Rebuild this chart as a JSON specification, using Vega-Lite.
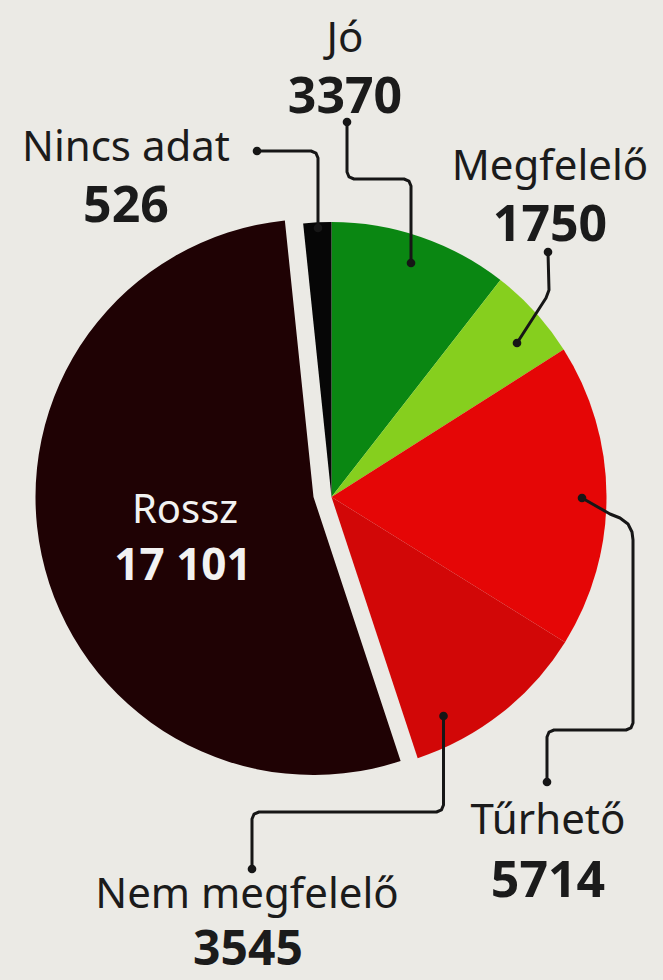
{
  "$schema": "https://vega.github.io/schema/vega-lite/v6.json",
  "width": 663,
  "height": 980,
  "autosize": {"type": "fit", "contains": "padding"},
  "padding": {"top": 14, "left": 0, "right": 0, "bottom": 0},
  "background": "#ebeae5",
  "config": {"view": {"stroke": null}},
  "data": {"values": [
    {"category": "Jó", "value": 3370, "rank": 1},
    {"category": "Megfelelő", "value": 1750, "rank": 2},
    {"category": "Tűrhető", "value": 5714, "rank": 3},
    {"category": "Nem megfelelő", "value": 3545, "rank": 4},
    {"category": "Rossz", "value": 17101, "rank": 5},
    {"category": "Nincs adat", "value": 526, "rank": 6}
  ]},
  "datasets": {
    "leaders": [
      {"leader": "Jó", "seq": 0, "x": 0.0564, "y": 1.3636},
      {"leader": "Jó", "seq": 1, "x": 0.0564, "y": 1.1818},
      {"leader": "Jó", "seq": 2, "x": 0.0638, "y": 1.1638},
      {"leader": "Jó", "seq": 3, "x": 0.0818, "y": 1.1564},
      {"leader": "Jó", "seq": 4, "x": 0.2636, "y": 1.1564},
      {"leader": "Jó", "seq": 5, "x": 0.2816, "y": 1.1489},
      {"leader": "Jó", "seq": 6, "x": 0.2891, "y": 1.1309},
      {"leader": "Jó", "seq": 7, "x": 0.2891, "y": 0.8509},
      {"leader": "Nincs adat", "seq": 0, "x": -0.2709, "y": 1.2582},
      {"leader": "Nincs adat", "seq": 1, "x": -0.0745, "y": 1.2582},
      {"leader": "Nincs adat", "seq": 2, "x": -0.0565, "y": 1.2507},
      {"leader": "Nincs adat", "seq": 3, "x": -0.0491, "y": 1.2327},
      {"leader": "Nincs adat", "seq": 4, "x": -0.0491, "y": 0.9782},
      {"leader": "Megfelelő", "seq": 0, "x": 0.7873, "y": 0.8909},
      {"leader": "Megfelelő", "seq": 1, "x": 0.7909, "y": 0.7527},
      {"leader": "Megfelelő", "seq": 2, "x": 0.78, "y": 0.7236},
      {"leader": "Megfelelő", "seq": 3, "x": 0.6745, "y": 0.56},
      {"leader": "Tűrhető", "seq": 0, "x": 0.9109, "y": -0.0036},
      {"leader": "Tűrhető", "seq": 1, "x": 1.0127, "y": -0.0618},
      {"leader": "Tűrhető", "seq": 2, "x": 1.0491, "y": -0.0764},
      {"leader": "Tűrhető", "seq": 3, "x": 1.0782, "y": -0.0982},
      {"leader": "Tűrhető", "seq": 4, "x": 1.0927, "y": -0.1273},
      {"leader": "Tűrhető", "seq": 5, "x": 1.0964, "y": -0.1564},
      {"leader": "Tűrhető", "seq": 6, "x": 1.0964, "y": -0.8218},
      {"leader": "Tűrhető", "seq": 7, "x": 1.0889, "y": -0.8398},
      {"leader": "Tűrhető", "seq": 8, "x": 1.0709, "y": -0.8473},
      {"leader": "Tűrhető", "seq": 9, "x": 0.8091, "y": -0.8473},
      {"leader": "Tűrhető", "seq": 10, "x": 0.7911, "y": -0.8547},
      {"leader": "Tűrhető", "seq": 11, "x": 0.7836, "y": -0.8727},
      {"leader": "Tűrhető", "seq": 12, "x": 0.7836, "y": -1.0364},
      {"leader": "Nem megfelelő", "seq": 0, "x": 0.4073, "y": -0.7964},
      {"leader": "Nem megfelelő", "seq": 1, "x": 0.4073, "y": -1.12},
      {"leader": "Nem megfelelő", "seq": 2, "x": 0.3998, "y": -1.138},
      {"leader": "Nem megfelelő", "seq": 3, "x": 0.3818, "y": -1.1455},
      {"leader": "Nem megfelelő", "seq": 4, "x": -0.2636, "y": -1.1455},
      {"leader": "Nem megfelelő", "seq": 5, "x": -0.2816, "y": -1.1529},
      {"leader": "Nem megfelelő", "seq": 6, "x": -0.2891, "y": -1.1709},
      {"leader": "Nem megfelelő", "seq": 7, "x": -0.2891, "y": -1.3527}
    ]
  },
  "transform": [
    {"calculate": "datum.value >= 10000 ? replace(format(datum.value, ','), ',', ' ') : format(datum.value, 'd')", "as": "numtext"}
  ],
  "layer": [
    {
      "mark": {"type": "arc", "outerRadius": 275},
      "encoding": {
        "theta": {"field": "value", "type": "quantitative", "stack": true},
        "order": {"field": "rank", "type": "quantitative"},
        "color": {"field": "category", "type": "nominal", "legend": null,
          "scale": {"domain": ["Jó", "Megfelelő", "Tűrhető", "Nem megfelelő", "Rossz", "Nincs adat"],
                    "range": ["#0a8712", "#86cf1e", "#e50606", "#d20707", "#1f0204", "#060606"]}},
        "opacity": {"condition": {"test": "datum.category === 'Rossz'", "value": 0}, "value": 1}
      }
    },
    {
      "mark": {"type": "arc", "outerRadius": 278, "xOffset": -18},
      "encoding": {
        "theta": {"field": "value", "type": "quantitative", "stack": true},
        "order": {"field": "rank", "type": "quantitative"},
        "color": {"field": "category", "type": "nominal", "legend": null},
        "opacity": {"condition": {"test": "datum.category === 'Rossz'", "value": 1}, "value": 0}
      }
    },
    {
      "data": {"name": "leaders"},
      "mark": {"type": "line", "color": "#161616", "strokeWidth": 3, "strokeCap": "round", "strokeJoin": "round"},
      "encoding": {
        "x": {"field": "x", "type": "quantitative", "axis": null, "scale": {"domain": [-1.20545, 1.20545], "nice": false, "zero": false}},
        "y": {"field": "y", "type": "quantitative", "axis": null, "scale": {"domain": [-1.7564, 1.7564], "nice": false, "zero": false}},
        "detail": {"field": "leader"},
        "order": {"field": "seq", "type": "quantitative"}
      }
    },
    {
      "data": {"name": "leaders"},
      "transform": [
        {"joinaggregate": [{"op": "max", "field": "seq", "as": "last"}], "groupby": ["leader"]},
        {"filter": "datum.seq === 0 || datum.seq === datum.last"}
      ],
      "mark": {"type": "point", "filled": true, "color": "#161616", "size": 75, "opacity": 1},
      "encoding": {
        "x": {"field": "x", "type": "quantitative", "axis": null, "scale": {"domain": [-1.20545, 1.20545], "nice": false, "zero": false}},
        "y": {"field": "y", "type": "quantitative", "axis": null, "scale": {"domain": [-1.7564, 1.7564], "nice": false, "zero": false}}
      }
    },
    {
      "transform": [{"filter": "datum.category === 'Jó'"}],
      "mark": {"type": "text", "font": "Noto Sans", "fontSize": 42, "baseline": "alphabetic", "align": "center", "color": "#1b1b1b"},
      "encoding": {
        "x": {"datum": 0.0491, "type": "quantitative", "axis": null, "scale": {"domain": [-1.20545, 1.20545], "nice": false, "zero": false}},
        "y": {"datum": 1.6182, "type": "quantitative", "axis": null, "scale": {"domain": [-1.7564, 1.7564], "nice": false, "zero": false}},
        "text": {"field": "category"}
      }
    },
    {
      "transform": [{"filter": "datum.category === 'Jó'"}],
      "mark": {"type": "text", "font": "Noto Sans", "fontSize": 50, "fontWeight": "bold", "baseline": "alphabetic", "align": "center", "color": "#1b1b1b"},
      "encoding": {
        "x": {"datum": 0.0491, "type": "quantitative", "axis": null, "scale": {"domain": [-1.20545, 1.20545], "nice": false, "zero": false}},
        "y": {"datum": 1.3964, "type": "quantitative", "axis": null, "scale": {"domain": [-1.7564, 1.7564], "nice": false, "zero": false}},
        "text": {"field": "numtext"}
      }
    },
    {
      "transform": [{"filter": "datum.category === 'Nincs adat'"}],
      "mark": {"type": "text", "font": "Noto Sans", "fontSize": 42, "baseline": "alphabetic", "align": "center", "color": "#1b1b1b"},
      "encoding": {
        "x": {"datum": -0.7473, "type": "quantitative", "axis": null, "scale": {"domain": [-1.20545, 1.20545], "nice": false, "zero": false}},
        "y": {"datum": 1.2218, "type": "quantitative", "axis": null, "scale": {"domain": [-1.7564, 1.7564], "nice": false, "zero": false}},
        "text": {"field": "category"}
      }
    },
    {
      "transform": [{"filter": "datum.category === 'Nincs adat'"}],
      "mark": {"type": "text", "font": "Noto Sans", "fontSize": 50, "fontWeight": "bold", "baseline": "alphabetic", "align": "center", "color": "#1b1b1b"},
      "encoding": {
        "x": {"datum": -0.7473, "type": "quantitative", "axis": null, "scale": {"domain": [-1.20545, 1.20545], "nice": false, "zero": false}},
        "y": {"datum": 1.0, "type": "quantitative", "axis": null, "scale": {"domain": [-1.7564, 1.7564], "nice": false, "zero": false}},
        "text": {"field": "numtext"}
      }
    },
    {
      "transform": [{"filter": "datum.category === 'Megfelelő'"}],
      "mark": {"type": "text", "font": "Noto Sans", "fontSize": 42, "baseline": "alphabetic", "align": "center", "color": "#1b1b1b"},
      "encoding": {
        "x": {"datum": 0.7945, "type": "quantitative", "axis": null, "scale": {"domain": [-1.20545, 1.20545], "nice": false, "zero": false}},
        "y": {"datum": 1.1527, "type": "quantitative", "axis": null, "scale": {"domain": [-1.7564, 1.7564], "nice": false, "zero": false}},
        "text": {"field": "category"}
      }
    },
    {
      "transform": [{"filter": "datum.category === 'Megfelelő'"}],
      "mark": {"type": "text", "font": "Noto Sans", "fontSize": 50, "fontWeight": "bold", "baseline": "alphabetic", "align": "center", "color": "#1b1b1b"},
      "encoding": {
        "x": {"datum": 0.7945, "type": "quantitative", "axis": null, "scale": {"domain": [-1.20545, 1.20545], "nice": false, "zero": false}},
        "y": {"datum": 0.9309, "type": "quantitative", "axis": null, "scale": {"domain": [-1.7564, 1.7564], "nice": false, "zero": false}},
        "text": {"field": "numtext"}
      }
    },
    {
      "transform": [{"filter": "datum.category === 'Rossz'"}],
      "mark": {"type": "text", "font": "Noto Sans", "fontSize": 40, "baseline": "alphabetic", "align": "center", "color": "#f2f2f2"},
      "encoding": {
        "x": {"datum": -0.5327, "type": "quantitative", "axis": null, "scale": {"domain": [-1.20545, 1.20545], "nice": false, "zero": false}},
        "y": {"datum": -0.0945, "type": "quantitative", "axis": null, "scale": {"domain": [-1.7564, 1.7564], "nice": false, "zero": false}},
        "text": {"field": "category"}
      }
    },
    {
      "transform": [{"filter": "datum.category === 'Rossz'"}],
      "mark": {"type": "text", "font": "Noto Sans", "fontSize": 44, "fontWeight": "bold", "baseline": "alphabetic", "align": "center", "color": "#f2f2f2"},
      "encoding": {
        "x": {"datum": -0.54, "type": "quantitative", "axis": null, "scale": {"domain": [-1.20545, 1.20545], "nice": false, "zero": false}},
        "y": {"datum": -0.3018, "type": "quantitative", "axis": null, "scale": {"domain": [-1.7564, 1.7564], "nice": false, "zero": false}},
        "text": {"field": "numtext"}
      }
    },
    {
      "transform": [{"filter": "datum.category === 'Tűrhető'"}],
      "mark": {"type": "text", "font": "Noto Sans", "fontSize": 42, "baseline": "alphabetic", "align": "center", "color": "#1b1b1b"},
      "encoding": {
        "x": {"datum": 0.7873, "type": "quantitative", "axis": null, "scale": {"domain": [-1.20545, 1.20545], "nice": false, "zero": false}},
        "y": {"datum": -1.2255, "type": "quantitative", "axis": null, "scale": {"domain": [-1.7564, 1.7564], "nice": false, "zero": false}},
        "text": {"field": "category"}
      }
    },
    {
      "transform": [{"filter": "datum.category === 'Tűrhető'"}],
      "mark": {"type": "text", "font": "Noto Sans", "fontSize": 50, "fontWeight": "bold", "baseline": "alphabetic", "align": "center", "color": "#1b1b1b"},
      "encoding": {
        "x": {"datum": 0.7873, "type": "quantitative", "axis": null, "scale": {"domain": [-1.20545, 1.20545], "nice": false, "zero": false}},
        "y": {"datum": -1.4545, "type": "quantitative", "axis": null, "scale": {"domain": [-1.7564, 1.7564], "nice": false, "zero": false}},
        "text": {"field": "numtext"}
      }
    },
    {
      "transform": [{"filter": "datum.category === 'Nem megfelelő'"}],
      "mark": {"type": "text", "font": "Noto Sans", "fontSize": 42, "baseline": "alphabetic", "align": "center", "color": "#1b1b1b"},
      "encoding": {
        "x": {"datum": -0.3073, "type": "quantitative", "axis": null, "scale": {"domain": [-1.20545, 1.20545], "nice": false, "zero": false}},
        "y": {"datum": -1.4945, "type": "quantitative", "axis": null, "scale": {"domain": [-1.7564, 1.7564], "nice": false, "zero": false}},
        "text": {"field": "category"}
      }
    },
    {
      "transform": [{"filter": "datum.category === 'Nem megfelelő'"}],
      "mark": {"type": "text", "font": "Noto Sans", "fontSize": 48, "fontWeight": "bold", "baseline": "alphabetic", "align": "center", "color": "#1b1b1b"},
      "encoding": {
        "x": {"datum": -0.3036, "type": "quantitative", "axis": null, "scale": {"domain": [-1.20545, 1.20545], "nice": false, "zero": false}},
        "y": {"datum": -1.7018, "type": "quantitative", "axis": null, "scale": {"domain": [-1.7564, 1.7564], "nice": false, "zero": false}},
        "text": {"field": "numtext"}
      }
    }
  ]
}
